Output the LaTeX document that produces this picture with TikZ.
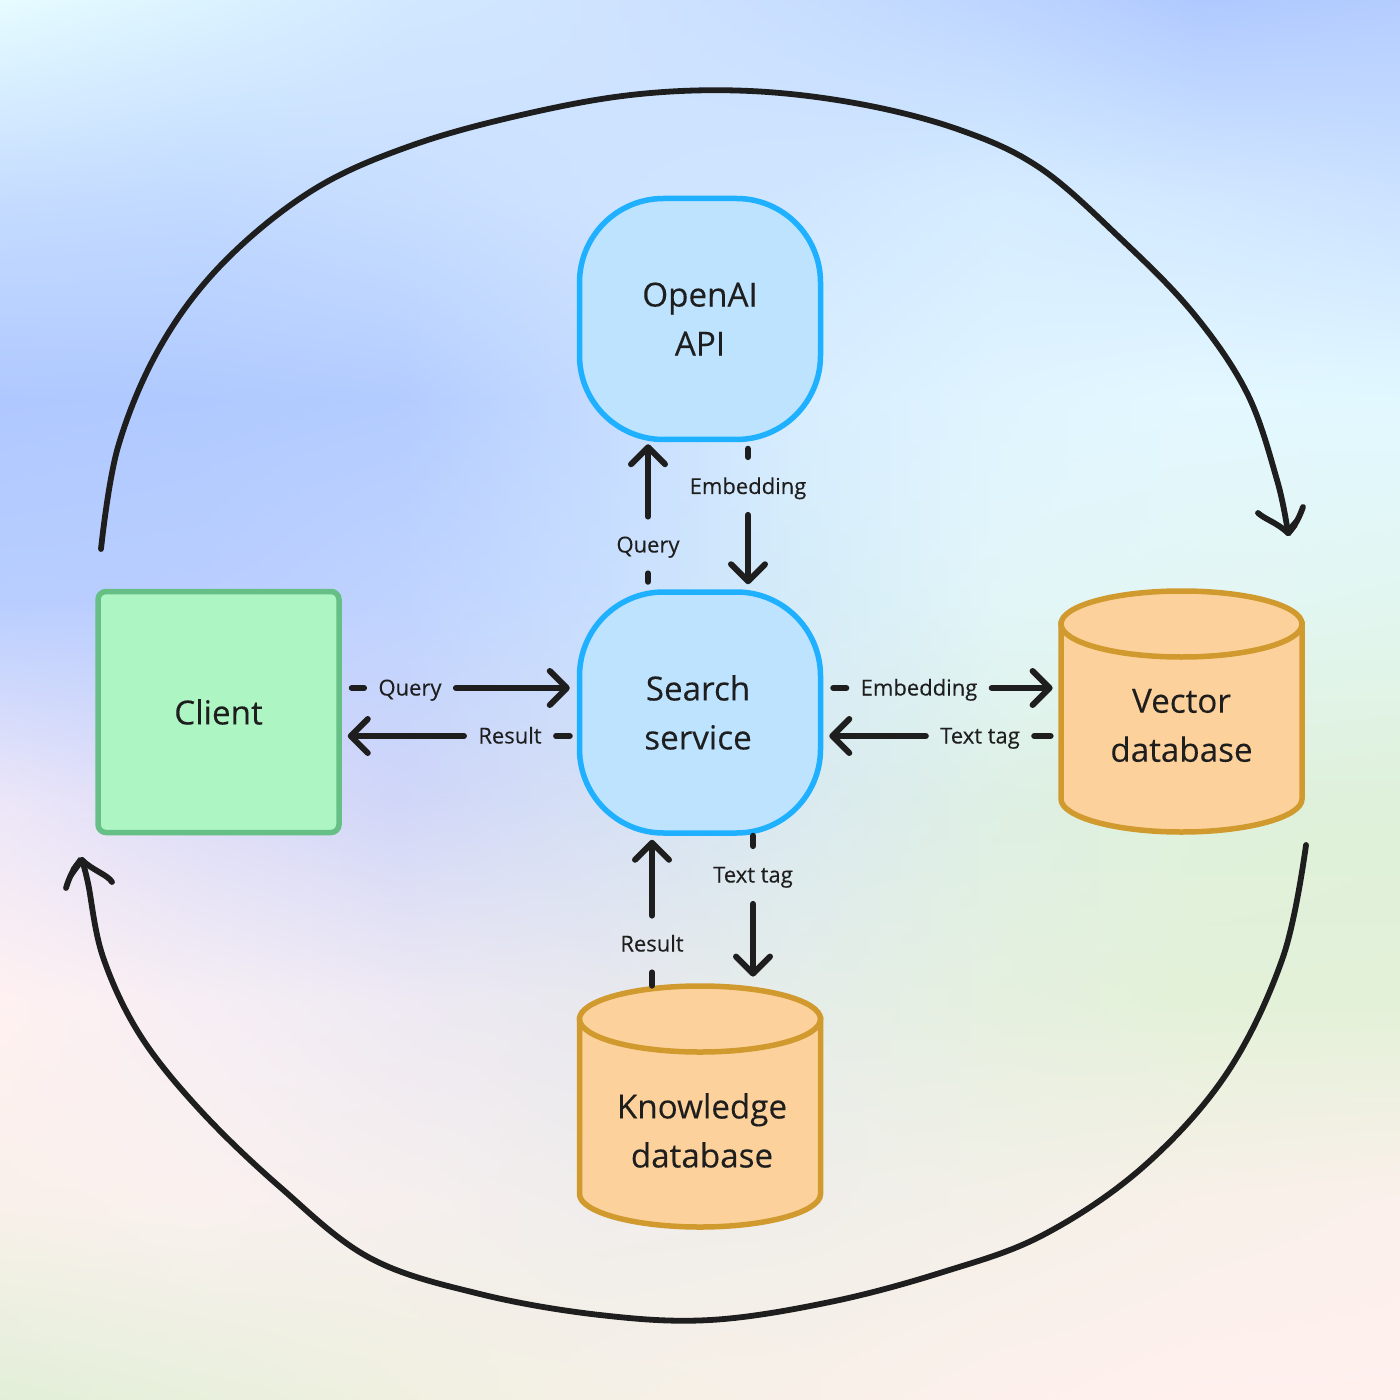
\documentclass[tikz,border=0pt]{standalone}
\usepackage{fontspec}
\setmainfont{Open Sans}[FakeBold=0.2]
\usetikzlibrary{arrows.meta,calc}
\newcommand\bgrow[9]{%
  \definecolor{g#1-0}{HTML}{#2}\definecolor{g#1-1}{HTML}{#3}%
  \definecolor{g#1-2}{HTML}{#4}\definecolor{g#1-3}{HTML}{#5}%
  \definecolor{g#1-4}{HTML}{#6}\definecolor{g#1-5}{HTML}{#7}%
  \definecolor{g#1-6}{HTML}{#8}\definecolor{g#1-7}{HTML}{#9}}
\bgrow{0}{E6FCFF}{DCF3FF}{D2E8FF}{CFE3FF}{C8DEFF}{BDD5FF}{AFC9FF}{B4CDFF}
\bgrow{1}{C5DCFF}{C2DAFF}{C8DEFF}{CEE3FF}{D0E6FF}{D6EDFF}{D2E8FF}{CCE2FF}
\bgrow{2}{AFC8FF}{B0CAFF}{B3CCFF}{C5DBFF}{D8EEFF}{E0F4FF}{E3F8FF}{E2F8FF}
\bgrow{3}{B8CEFF}{BACEFF}{BFD3FF}{C8DEFF}{D5ECF8}{E2F6F8}{E3F6F4}{E2F6F0}
\bgrow{4}{ECE6F8}{DCDCF8}{D0D6F8}{D5E0F5}{DAEAF0}{DEF0E4}{DFF1DC}{DFF1DA}
\bgrow{5}{FFF1F1}{F6EEF4}{EEE9F3}{E8E8EE}{E5EDE8}{E5F0DF}{E3F1D8}{E3F1D8}
\bgrow{6}{F9F0EA}{FAF1EF}{F6EFEE}{F0EDEC}{F0EEEA}{F3F0E8}{F8F0E9}{FBF0EB}
\bgrow{7}{E2EFD8}{E8F0DC}{F0F0E0}{F5F0E6}{F8F0E8}{FDF0EC}{FFF0EE}{FFF0EE}
\definecolor{ink}{HTML}{1E1E1E}
\definecolor{bluefill}{HTML}{BDE3FF}
\definecolor{blueline}{HTML}{1FB0FF}
\definecolor{greenfill}{HTML}{AEF5C4}
\definecolor{greenline}{HTML}{66BF85}
\definecolor{orfill}{HTML}{FDD19B}
\definecolor{orline}{HTML}{D19A2E}
\newcommand\dbshape[2]{% centre x, top y
  \filldraw[dbline] ({#1-120.5},{#2+33}) -- ({#1-120.5},{#2+208})
    .. controls ({#1-120.5},{#2+226}) and ({#1-66},{#2+241}) .. (#1,{#2+241})
    .. controls ({#1+66},{#2+241}) and ({#1+120.5},{#2+226}) .. ({#1+120.5},{#2+208})
    -- ({#1+120.5},{#2+33}) -- cycle;
  \filldraw[dbline] (#1,{#2+33}) ellipse [x radius=120.5, y radius=33];}
\begin{document}
\begin{tikzpicture}[x=0.5pt,y=-0.5pt,
  softbox/.style={rectangle,rounded corners=42pt,draw=blueline,fill=bluefill,line width=2.75pt,
    minimum size=120.5pt,inner sep=0pt,title},
  clientbox/.style={rectangle,rounded corners=4pt,draw=greenline,fill=greenfill,line width=2.75pt,
    minimum size=120.5pt,inner sep=0pt,title},
  dbline/.style={draw=orline,fill=orfill,line width=2.75pt},
  dbbox/.style={rectangle,minimum size=120.5pt,inner sep=0pt},
  title/.style={font=\fontsize{16.6}{24.5}\selectfont,text=ink,align=center},
  hlab/.style={font=\fontsize{11}{13}\selectfont,text=ink,inner xsep=7pt,inner ysep=0pt,text height=8.25pt,text depth=0.75pt},
  vlab/.style={font=\fontsize{11}{13}\selectfont,text=ink,inner xsep=0pt,inner ysep=9.5pt,text height=8.25pt,text depth=0.75pt},
  seg/.style={draw=ink,line width=3pt,line cap=round},
  arr/.style={seg,-{Straight Barb[length=8.5pt,width=17pt,round]}},
  bigline/.style={draw=ink,line width=2.9pt,line cap=round,line join=round}]
\useasboundingbox (0,0) rectangle (1400,1400);
% background mesh: one vertical gradient per column
\foreach \i in {0,...,139}{
  \edef\cxa{\the\numexpr(\i*2-19)/40\relax}
  \edef\cxb{\the\numexpr\cxa+1\relax}
  \edef\px{\the\numexpr98-(\i-20*\cxa)*5\relax}
  \edef\xa{\the\numexpr\i*10\relax}
  \edef\xb{\the\numexpr\i*10+11\relax}
  \colorlet{s0}{g0-\cxa!\px!g0-\cxb}
  \colorlet{s1}{g1-\cxa!\px!g1-\cxb}
  \colorlet{s2}{g2-\cxa!\px!g2-\cxb}
  \colorlet{s3}{g3-\cxa!\px!g3-\cxb}
  \colorlet{s4}{g4-\cxa!\px!g4-\cxb}
  \colorlet{s5}{g5-\cxa!\px!g5-\cxb}
  \colorlet{s6}{g6-\cxa!\px!g6-\cxb}
  \colorlet{s7}{g7-\cxa!\px!g7-\cxb}
  \pgfdeclareverticalshading{bgcol\i}{100bp}{color(0bp)=(s7); color(25bp)=(s7);
    color(32.14286bp)=(s6); color(39.28571bp)=(s5); color(46.42857bp)=(s4);
    color(53.57143bp)=(s3); color(60.71429bp)=(s2); color(67.85714bp)=(s1);
    color(75bp)=(s0); color(100bp)=(s0)}
  \shade[shading=bgcol\i] (\xa,0) rectangle (\xb,1400);
}
% nodes
\node[softbox] (openai) at (700,319) {OpenAI\\API};
\node[softbox] (search) at (700,712.5) {\hspace*{-2pt}Search\\\hspace*{-2pt}service};
\node[clientbox] (client) at (218.5,712) {Client};
\dbshape{1181.5}{591}
\node[dbbox] (vecdb) at (1181.5,711.5) {};
\node[title] (vectxt) at ([yshift=-7pt]vecdb.center) {Vector\\database};
\dbshape{700}{986}
\node[dbbox] (kndb) at (700,1106.5) {};
\node[title,xshift=1pt] (kntxt) at ([yshift=-12pt]kndb.center) {Knowledge\\database};
% labels
\node[hlab] (qa) at (410,688) {Query};
\node[hlab] (ra) at (510,736) {Result};
\node[hlab] (ea) at (919,688) {Embedding};
\node[hlab] (ta) at (980,736) {Text tag};
\node[vlab] (qb) at (648,545) {Query};
\node[vlab,inner ysep=9.75pt,text height=8.5pt,text depth=0.5pt] (eb) at (748,486) {Embedding};
\node[vlab] (rb) at (652,944) {Result};
\node[vlab,inner ysep=9.75pt] (tb) at (753,875) {Text tag};
% connectors
\draw[seg,shorten <=5pt] (client.east |- qa) -- (qa);
\draw[arr,shorten >=3.5pt] (qa) -- (search.west |- qa);
\draw[seg,shorten <=3.5pt] (search.west |- ra) -- (ra);
\draw[arr,shorten >=3pt] (ra) -- (client.east |- ra);
\draw[seg,shorten <=5pt] (search.east |- ea) -- (ea);
\draw[arr,shorten >=4pt] (ea) -- (vecdb.west |- ea);
\draw[seg,shorten <=5pt] (vecdb.west |- ta) -- (ta);
\draw[arr,shorten >=3pt] (ta) -- (search.east |- ta);
\draw[seg,shorten <=3.75pt] (qb |- search.north) -- (qb);
\draw[arr,shorten >=1pt] (qb) -- (qb |- openai.south);
\draw[seg,shorten <=3.25pt] (eb |- openai.south) -- (eb);
\draw[arr,shorten >=2.5pt] (eb) -- (eb |- search.north);
\draw[seg] (rb |- kndb.north) -- (rb);
\draw[arr,shorten >=2pt] (rb) -- (rb |- search.south);
\draw[seg] (tb |- search.south) -- (tb);
\draw[arr,shorten >=4.5pt] (tb) -- (tb |- kndb.north);
% big hand-drawn loops
\coordinate (loopAstart) at (101,549);
\coordinate (loopAtip) at (1288,533);
\coordinate (loopBstart) at (1306,845);
\coordinate (loopBtip) at (82,860);
\draw[bigline] plot[smooth,tension=0.6] coordinates {(loopAstart) (118,447) (160,347) (223,263) (313,190) (413,145) (530,113) (640,94) (750,91) (860,104) (960,130) (1040,168) (1120,238) (1193,313) (1247,393) (1277,480) (loopAtip)};
\draw[bigline] (1258,513) .. controls (1266,520) and (1276,522) .. (loopAtip);
\draw[bigline] (1303,507) .. controls (1299,518) and (1295,526) .. (loopAtip);
\fill[ink] (1301,512) -- (1285,530) -- (1290,536) -- (1297,527) -- cycle;
\draw[bigline] plot[smooth,tension=0.6] coordinates {(loopBstart) (1283,957) (1227,1073) (1143,1167) (1043,1235) (943,1272) (830,1302) (710,1320) (600,1315) (480,1294) (370,1258) (280,1187) (200,1110) (140,1035) (103,957) (88,883) (loopBtip)};
\draw[bigline] (66,888) .. controls (69,878) and (74,866) .. (loopBtip);
\draw[bigline] (112,882) .. controls (108,875) and (92,870) .. (loopBtip);
\fill[ink] (68,884) -- (84,862) -- (79,857) -- (71,868) -- cycle;
\end{tikzpicture}
\end{document}
